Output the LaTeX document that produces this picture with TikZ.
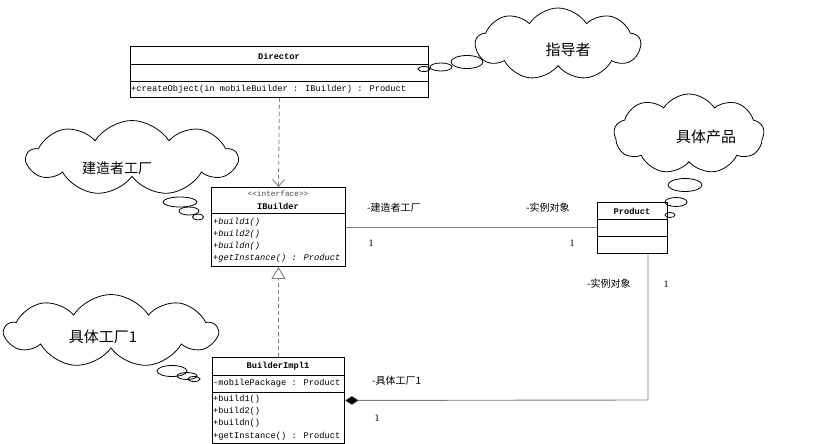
\documentclass[tikz,border=0pt]{standalone}
\usepackage{fontspec}
\setmainfont{Liberation Serif}
\newfontfamily\cjk{Noto Sans CJK SC}
\newfontfamily\monof{Liberation Mono}
\usetikzlibrary{shapes.symbols,shapes.geometric,arrows.meta}
\definecolor{lgray}{RGB}{125,125,125}
\begin{document}
\begin{tikzpicture}[x=1pt,y=-1pt,
  umlbox/.style={draw=black, line width=0.9pt, rectangle, inner sep=0pt, anchor=north west},
  ctext/.style={font=\monof\fontsize{8.7}{10}\selectfont, inner sep=0pt},
  otext/.style={ctext, anchor=west},
  itext/.style={font=\monof\itshape\fontsize{8.7}{10}\selectfont, inner sep=0pt, anchor=west},
  ttext/.style={font=\monof\bfseries\fontsize{8.7}{10}\selectfont, inner sep=0pt},
  lab/.style={font=\cjk\fontsize{10}{12}\selectfont, inner sep=0pt, anchor=west},
  num/.style={font=\fontsize{10}{12}\selectfont, inner sep=0pt},
  cloudn/.style={cloud, draw=black, line width=0.8pt, cloud puffs=9, cloud puff arc=115, aspect=2.3, inner sep=0pt},
  cloudtext/.style={font=\cjk\fontsize{15}{17}\selectfont, inner sep=0pt},
  bubble/.style={ellipse, draw=black, line width=0.8pt, inner sep=0pt},
  assoc/.style={draw=lgray, line width=0.9pt},
  depend/.style={draw=lgray, line width=0.8pt, dash pattern=on 4pt off 3pt}
]
\useasboundingbox (0,0) rectangle (823,444);

% ---------- Director ----------
\node[umlbox, minimum width=298pt, minimum height=51pt] (dir) at (130,46) {};
\draw[line width=0.9pt] (130,64) -- (428,64);
\draw[line width=0.9pt] (130,81) -- (428,81);
\node[ttext] (dirt) at (279,56) {Director};
\node[otext] (diro) at (131,89) {+createObject(in mobileBuilder : IBuilder) : Product};

% ---------- IBuilder ----------
\node[umlbox, minimum width=134pt, minimum height=79pt] (ib) at (211,187) {};
\draw[line width=0.9pt] (211,213) -- (345,213);
\node[ctext, font=\monof\fontsize{7.8}{9}\selectfont, text=black!70] (ibs) at (278,194) {<{}<interface>{}>};
\node[ttext] (ibt) at (278,206) {IBuilder};
\node[itext] (ib1) at (213,222) {+build1()};
\node[itext] (ib2) at (213,234) {+build2()};
\node[itext] (ib3) at (213,246) {+buildn()};
\node[itext] (ib4) at (213,258) {+getInstance() : Product};

% ---------- Product ----------
\node[umlbox, minimum width=70pt, minimum height=51pt] (prod) at (597,202) {};
\draw[line width=0.9pt] (597,219) -- (667,219);
\draw[line width=0.9pt] (597,236) -- (667,236);
\node[ttext] (prodt) at (632,211) {Product};

% ---------- BuilderImpl1 ----------
\node[umlbox, minimum width=132pt, minimum height=86pt] (bi) at (212,357) {};
\draw[line width=0.9pt] (212,375) -- (344,375);
\draw[line width=0.9pt] (212,392) -- (344,392);
\node[ttext] (bit) at (278,366) {BuilderImpl1};
\node[otext] (bia) at (213,383) {-mobilePackage : Product};
\node[otext] (bi1) at (213,399) {+build1()};
\node[otext] (bi2) at (213,411) {+build2()};
\node[otext] (bi3) at (213,423) {+buildn()};
\node[otext] (bi4) at (213,436) {+getInstance() : Product};

% ---------- connectors ----------
\draw[depend, -{Straight Barb[length=7pt,width=12pt,line width=0.8pt]}] (dir.south) -- (ib.north);
\draw[depend, -{Triangle[open,length=12pt,width=14pt,line width=0.9pt,fill=white]}] (bi.north) -- (ib.south);
\draw[assoc] (ib.east) -- (ib.east -| prod.west);
\coordinate (pcorner) at (648,400);
\draw[assoc, {Diamond[length=14pt,width=9pt,fill=black,line width=0.5pt]}-] (bi.east) -- (pcorner) -- (pcorner |- prod.south);

% labels
\node[lab] (l1) at (367,208) {-建造者工厂};
\node[lab] (l2) at (526,208) {-实例对象};
\node[num] (n1) at (371,243) {1};
\node[num] (n2) at (572,243) {1};
\node[lab] (l3) at (587,284) {-实例对象};
\node[num] (n3) at (666,284) {1};
\node[lab] (l4) at (372,381) {-具体工厂1};
\node[num] (n4) at (377,418) {1};

% ---------- clouds ----------
\node[cloudn, minimum width=165pt, minimum height=72pt] (c1) at (558,44) {};
\node[cloudtext] (c1t) at (568,50) {指导者};
\node[bubble, minimum width=32pt, minimum height=13pt] (c1b1) at (467,62) {};
\node[bubble, minimum width=22pt, minimum height=8pt] (c1b2) at (441,67) {};
\node[bubble, minimum width=12pt, minimum height=5pt] (c1b3) at (424,69) {};

\node[cloudn, minimum width=150pt, minimum height=80pt] (c2) at (689,134) {};
\node[cloudtext] (c2t) at (706,137) {具体产品};
\node[bubble, minimum width=34pt, minimum height=13pt] (c2b1) at (685,185) {};
\node[bubble, minimum width=22pt, minimum height=9pt] (c2b2) at (676,202) {};
\node[bubble, minimum width=10pt, minimum height=5pt] (c2b3) at (670,215) {};

\node[cloudn, minimum width=210pt, minimum height=75pt] (c3) at (132,158) {};
\node[cloudtext, font=\cjk\fontsize{14}{16}\selectfont] (c3t) at (117,168) {建造者工厂};
\node[bubble, minimum width=34pt, minimum height=10pt] (c3b1) at (180,202) {};
\node[bubble, minimum width=20pt, minimum height=8pt] (c3b2) at (189,211) {};
\node[bubble, minimum width=11pt, minimum height=6pt] (c3b3) at (198,217) {};

\node[cloudn, minimum width=212pt, minimum height=73pt] (c4) at (111,331) {};
\node[cloudtext] (c4t) at (103,337) {具体工厂1};
\node[bubble, minimum width=30pt, minimum height=11pt] (c4b1) at (172,371) {};
\node[bubble, minimum width=20pt, minimum height=7pt] (c4b2) at (187,376) {};
\node[bubble, minimum width=12pt, minimum height=5pt] (c4b3) at (194,379) {};
\end{tikzpicture}
\end{document}
